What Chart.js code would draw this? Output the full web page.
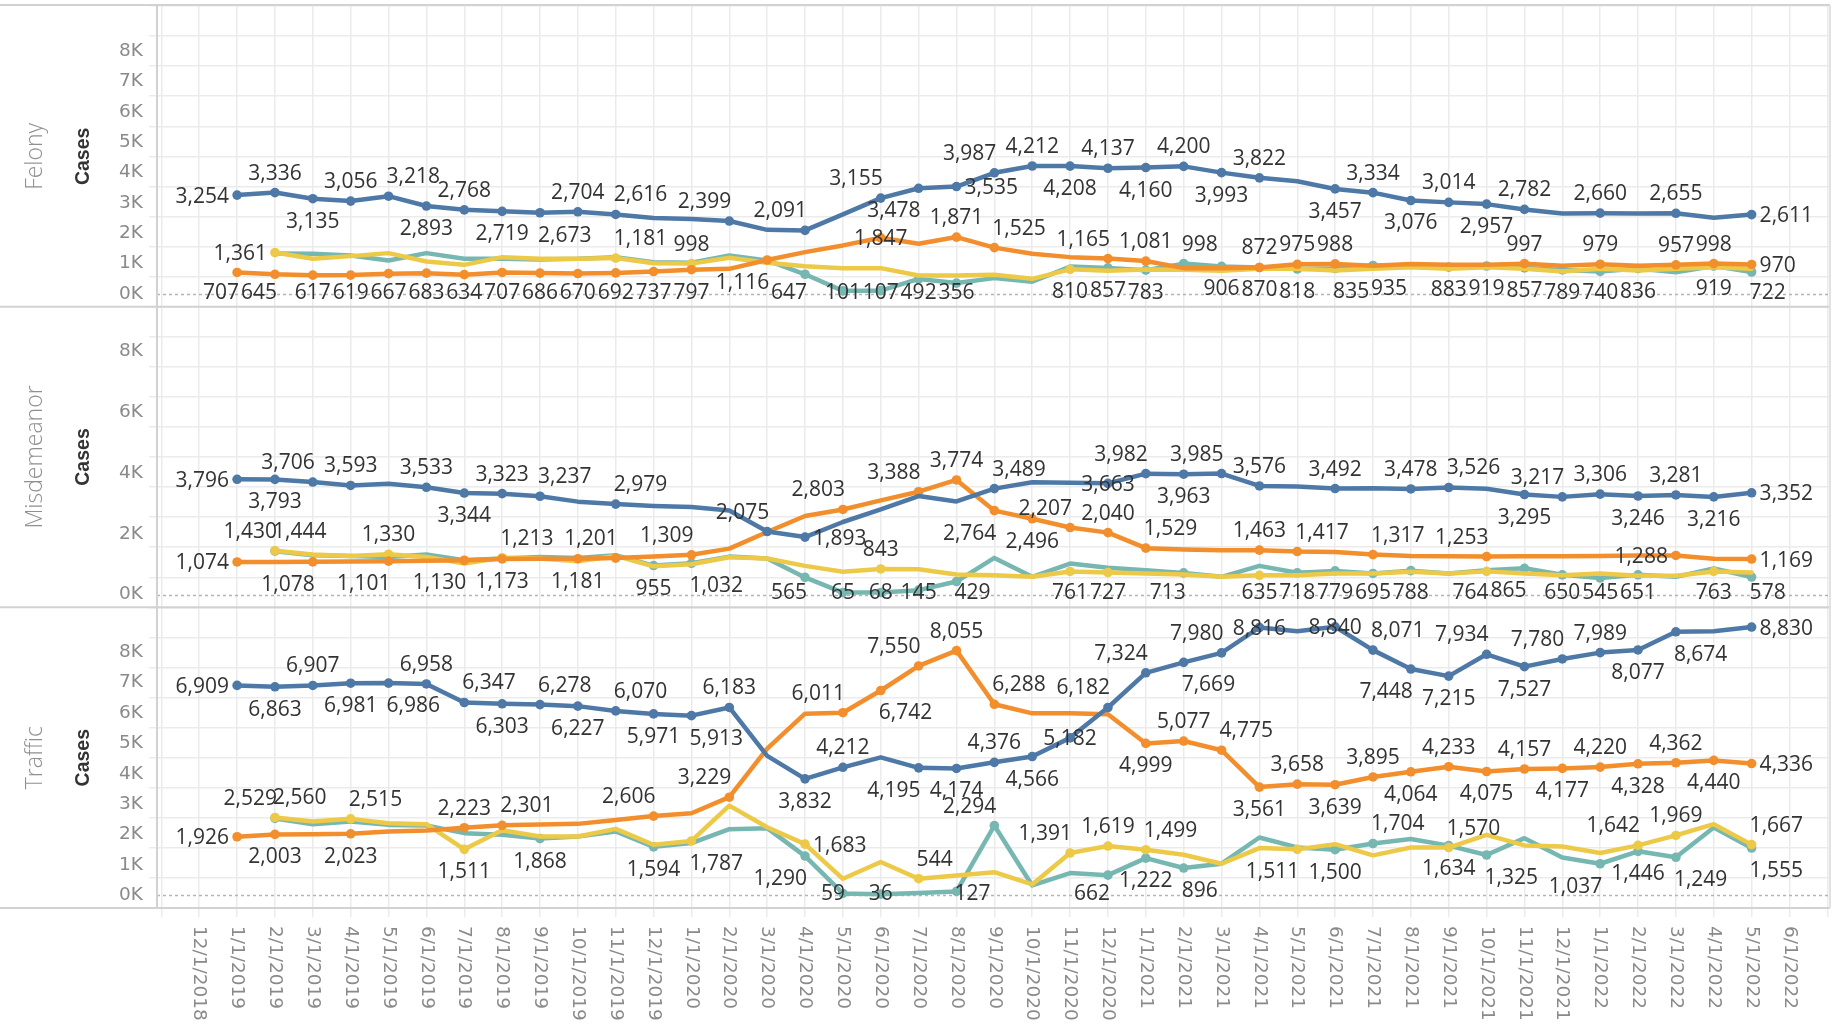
<!DOCTYPE html>
<html>
<head>
<meta charset="utf-8">
<title>Cases by month</title>
<script src="https://cdn.jsdelivr.net/npm/chart.js@4.4.1/dist/chart.umd.min.js"></script>
<style>
  html, body { margin:0; padding:0; background:#ffffff; }
  #wrap { position:relative; width:1837px; height:1024px; }
  canvas { display:block; }
</style>
</head>
<body>
<div id="wrap"><canvas id="chart"></canvas></div>
<script>
// ---------------- data ----------------
const months = ['12/1/2018','1/1/2019','2/1/2019','3/1/2019','4/1/2019','5/1/2019','6/1/2019','7/1/2019','8/1/2019','9/1/2019','10/1/2019','11/1/2019','12/1/2019','1/1/2020','2/1/2020','3/1/2020','4/1/2020','5/1/2020','6/1/2020','7/1/2020','8/1/2020','9/1/2020','10/1/2020','11/1/2020','12/1/2020','1/1/2021','2/1/2021','3/1/2021','4/1/2021','5/1/2021','6/1/2021','7/1/2021','8/1/2021','9/1/2021','10/1/2021','11/1/2021','12/1/2021','1/1/2022','2/1/2022','3/1/2022','4/1/2022','5/1/2022','6/1/2022'];
const firstDataMonth = 1; // series values start at '1/1/2019'

const felonyTicks = [0,1000,2000,3000,4000,5000,6000,7000,8000];
const misdTicks   = [0,2000,4000,6000,8000];
const trafficTicks = [0,1000,2000,3000,4000,5000,6000,7000,8000];

const felonyBlue   = [3254,3336,3135,3056,3218,2893,2768,2719,2673,2704,2616,2500,2470,2399,2110,2091,2620,3155,3478,3535,3987,4212,4208,4137,4160,4200,3993,3822,3710,3457,3334,3076,3014,2957,2782,2645,2660,2650,2655,2510,2611];
const felonyOrange = [707,645,617,619,667,683,634,707,686,670,692,737,797,826,1116,1376,1597,1847,1650,1871,1525,1320,1211,1165,1081,848,848,872,975,988,930,985,957,957,997,930,979,930,957,998,970];
const felonyTeal   = [null,1330,1320,1267,1102,1343,1155,1155,1135,1155,1211,1046,1030,1267,1102,647,101,107,492,356,520,400,900,857,783,998,906,870,818,835,935,915,883,919,857,789,740,836,716,919,722];
const felonyYellow = [null,1361,1155,1244,1343,1069,957,1211,1155,1155,1181,1013,998,1189,1023,911,848,848,606,606,628,496,810,760,800,793,760,830,826,771,826,880,826,881,826,740,826,771,826,881,826];

const misdBlue   = [3796,3793,3706,3593,3650,3533,3344,3323,3237,3060,2979,2920,2880,2770,2075,1893,2390,2806,3243,3068,3489,3700,3680,3663,3982,3963,3985,3576,3560,3492,3505,3478,3526,3484,3295,3217,3306,3246,3281,3216,3352];
const misdOrange = [1074,1076,1078,1090,1101,1115,1130,1173,1178,1181,1201,1250,1309,1514,2061,2586,2803,3100,3388,3774,2764,2496,2207,2040,1529,1481,1459,1463,1417,1400,1317,1270,1262,1253,1260,1262,1270,1285,1288,1180,1169];
const misdTeal   = [null,1430,1295,1273,1241,1317,1131,1186,1241,1208,1295,955,1032,1250,1186,565,65,68,145,429,1208,584,1022,880,804,713,584,946,718,779,695,788,694,804,865,650,545,651,584,858,578];
const misdYellow = [null,1444,1317,1273,1330,1241,1022,1213,1186,1099,1273,930,1000,1230,1186,946,749,843,836,661,639,584,761,727,694,661,584,635,639,694,694,749,694,764,694,639,694,617,617,763,727];

const trafficBlue   = [6909,6863,6907,6981,6986,6958,6347,6303,6278,6227,6070,5971,5913,6183,4590,3832,4212,4540,4195,4174,4376,4566,5182,6182,7324,7669,7980,8816,8690,8840,8071,7448,7215,7934,7527,7780,7989,8077,8674,8690,8830];
const trafficOrange = [1926,2003,2010,2023,2100,2130,2223,2301,2330,2350,2480,2606,2700,3229,4830,5978,6011,6742,7550,8055,6288,5990,5990,5960,4999,5077,4775,3561,3658,3639,3895,4064,4233,4075,4157,4177,4220,4328,4362,4440,4336];
const trafficTeal   = [null,2529,2339,2426,2317,2295,2044,1989,1868,1934,2098,1594,1716,2175,2208,1290,59,36,72,127,2294,322,730,662,1222,896,1038,1902,1574,1500,1704,1850,1634,1325,1880,1245,1037,1446,1249,2230,1555];
const trafficYellow = [null,2560,2426,2515,2372,2340,1511,2142,1934,1934,2186,1661,1787,2950,2240,1683,541,1093,544,650,760,355,1391,1619,1499,1335,1038,1552,1511,1683,1313,1574,1570,1990,1640,1607,1390,1642,1969,2339,1667];

// ------------- label placement (keyed by month index; style only) -------------
const felonyBlueLab = {1:'L',2:'T',3:'B',4:'T',5:'TR',6:'B',7:'T',8:'B',9:'BR',10:'T',11:'TR',14:'TL',16:'TL',18:'TL',19:'BL',20:'R',21:'TL',22:'T',23:'B',24:'T',25:'B',26:'T',27:'B',28:'T',30:'B',31:'T',32:'B',33:'T',34:'B',35:'T',37:'T',39:'T',41:'R'};
const felonyOrangeLab = {1:'BL',2:'BL',3:'B',4:'B',5:'B',6:'B',7:'B',8:'B',9:'B',10:'B',11:'B',12:'B',13:'B',15:'BL',18:'M',20:'T',21:'TR',24:'TL',25:'T',28:'T',29:'T',30:'T',35:'T',37:'T',39:'T',40:'T',41:'R'};
const felonyTealLab = {16:'BL',17:'B',18:'B',19:'B',20:'B',24:'B',25:'B',26:'TR',27:'B',28:'B',29:'B',30:'BR',31:'BR',33:'B',34:'B',35:'B',36:'B',37:'B',38:'B',40:'B',41:'BR'};
const felonyYellowLab = {2:'L',11:'TR',13:'T',23:'B'};

const misdBlueLab = {1:'L',2:'B',3:'TL',4:'T',6:'T',7:'B',8:'T',9:'TR',11:'TR',15:'TL',16:'R',21:'TR',24:'M',25:'TL',26:'B',27:'TL',28:'T',30:'T',32:'T',33:'TR',35:'B',36:'TL',37:'T',38:'B',39:'T',40:'B',41:'R'};
const misdOrangeLab = {1:'L',3:'BL',5:'BL',7:'BL',8:'B',10:'B',11:'TL',13:'TL',17:'TL',19:'TL',20:'T',21:'BL',22:'B',23:'TL',24:'T',25:'TR',28:'T',29:'TR',31:'TR',34:'TL',39:'L',41:'R'};
const misdTealLab = {2:'TL',12:'B',13:'BR',16:'BL',17:'B',18:'B',19:'B',20:'BR',26:'BL',29:'B',30:'B',31:'B',32:'B',35:'BL',36:'B',37:'B',38:'B',41:'BR'};
const misdYellowLab = {2:'TR',5:'T',8:'TR',18:'T',23:'B',24:'B',28:'B',34:'BL',40:'B'};

const trafficBlueLab = {1:'L',2:'B',3:'T',4:'B',5:'BR',6:'T',7:'TR',8:'B',9:'TR',10:'B',11:'TR',12:'B',13:'BR',14:'T',16:'B',17:'T',19:'BL',20:'B',21:'T',22:'B',23:'M',24:'TL',25:'TL',26:'BR',27:'TL',28:'M',30:'M',31:'TR',32:'BL',33:'B',34:'TL',35:'B',36:'TL',37:'T',38:'B',39:'BR',41:'R'};
const trafficOrangeLab = {1:'L',2:'B',4:'B',7:'T',8:'TR',12:'TL',14:'TL',17:'TL',18:'BR',19:'TL',20:'T',21:'TR',25:'B',26:'T',27:'TR',28:'B',29:'T',30:'B',31:'T',32:'B',33:'T',34:'B',35:'T',36:'B',37:'T',38:'B',39:'T',40:'B',41:'R'};
const trafficTealLab = {2:'TL',9:'B',12:'B',16:'BL',17:'BL',18:'B',20:'BR',21:'TL',24:'BL',25:'B',26:'BR',30:'B',31:'TR',33:'B',34:'BR',37:'BL',38:'B',39:'BR',41:'BR'};
const trafficYellowLab = {2:'TR',4:'TR',7:'B',13:'BR',16:'R',19:'TR',23:'TL',24:'T',25:'TR',29:'BL',33:'TR',38:'TL',39:'T',41:'TR'};

// ---------------- styling ----------------
const COLORS = { blue:'#4e79a7', orange:'#f28e2b', teal:'#76b7b2', yellow:'#edc948' };
const ORDER  = { blue:1, orange:2, yellow:3, teal:4 };
const GRID = '#ebebeb';
const AXIS_TEXT = '#8a8a8a';
const LABEL_FONT = '21px "Open Sans", "Noto Sans", sans-serif';
const TICK_FONT = '18.5px "DejaVu Sans", sans-serif';

const panels = [
  { axis:'yF', name:'Felony', ticks:felonyTicks, series:[
      {color:'blue', values:felonyBlue, lab:felonyBlueLab},
      {color:'orange', values:felonyOrange, lab:felonyOrangeLab},
      {color:'teal', values:felonyTeal, lab:felonyTealLab},
      {color:'yellow', values:felonyYellow, lab:felonyYellowLab}]},
  { axis:'yM', name:'Misdemeanor', ticks:misdTicks, series:[
      {color:'blue', values:misdBlue, lab:misdBlueLab},
      {color:'orange', values:misdOrange, lab:misdOrangeLab},
      {color:'teal', values:misdTeal, lab:misdTealLab},
      {color:'yellow', values:misdYellow, lab:misdYellowLab}]},
  { axis:'yT', name:'Traffic', ticks:trafficTicks, series:[
      {color:'blue', values:trafficBlue, lab:trafficBlueLab},
      {color:'orange', values:trafficOrange, lab:trafficOrangeLab},
      {color:'teal', values:trafficTeal, lab:trafficTealLab},
      {color:'yellow', values:trafficYellow, lab:trafficYellowLab}]}
];

const datasets = [];
panels.forEach(p => {
  p.series.forEach(s => {
    const data = s.values.map((v, k) => ({ x: k + firstDataMonth, y: v }));
    datasets.push({
      label: p.name + ' ' + s.color,
      data,
      yAxisID: p.axis,
      borderColor: COLORS[s.color],
      backgroundColor: COLORS[s.color],
      borderWidth: 4.5,
      tension: 0,
      fill: false,
      spanGaps: false,
      borderJoinStyle: 'round',
      borderCapStyle: 'round',
      pointRadius: data.map(d => (d.y != null && s.lab[d.x]) ? 4.8 : 0),
      pointBorderWidth: 0,
      pointHoverRadius: 0,
      order: ORDER[s.color],
      labelPos: s.lab
    });
  });
});

const scales = {
  x: {
    type: 'linear', position: 'bottom', min: -1.115, max: 43.07,
    ticks: { display: false, stepSize: 1, includeBounds: false, autoSkip: false },
    grid: { color: GRID, lineWidth: 1.5, drawTicks: true, tickLength: 9, tickColor: GRID },
    border: { display: false },
    afterFit(s) { s.height = 116; }
  }
};
panels.forEach((p, k) => {
  scales[p.axis] = {
    type: 'linear', position: 'left', stack: 'rows', stackWeight: 1, weight: 3 - k,
    min: -420, max: 9480,
    ticks: { display: false, stepSize: 1000, includeBounds: false, autoSkip: false },
    grid: {
      color: c => (c.tick && c.tick.value === 0) ? 'rgba(0,0,0,0)' : GRID,
      tickColor: c => (c.tick && c.tick.value === 0) ? 'rgba(0,0,0,0)' : GRID,
      lineWidth: 1.5, drawTicks: true, tickLength: 8
    },
    border: { display: false },
    afterFit(s) { s.width = 157; }
  };
});

function fmt(v) { return v.toLocaleString('en-US'); }

const decor = {
  id: 'decor',
  beforeDatasetsDraw(chart) {
    const { ctx, chartArea: ca } = chart;
    ctx.save();
    ctx.setLineDash([3, 3]);
    ctx.strokeStyle = '#b4b4b4';
    ctx.lineWidth = 1.5;
    panels.forEach(p => {
      const s = chart.scales[p.axis];
      const y = Math.round(s.getPixelForValue(0)) + 0.5;
      ctx.beginPath(); ctx.moveTo(ca.left, y); ctx.lineTo(ca.right, y); ctx.stroke();
    });
    ctx.restore();
  },
  afterDatasetsDraw(chart) {
    const ctx = chart.ctx;
    ctx.save();
    ctx.font = LABEL_FONT;
    ctx.fillStyle = '#333333';
    ctx.textAlign = 'left';
    ctx.textBaseline = 'alphabetic';
    const capH = 15, up = 13, down = 14, side = 8;
    chart.data.datasets.forEach((ds, di) => {
      const meta = chart.getDatasetMeta(di);
      const sc = chart.scales[ds.yAxisID];
      ds.data.forEach((pt, j) => {
        const code = ds.labelPos[pt.x];
        if (!code || pt.y == null) return;
        const el = meta.data[j];
        const x = el.x, y = el.y;
        const t = fmt(pt.y);
        const w = ctx.measureText(t).width;
        let tx = x - w / 2, ty = y - up;
        switch (code) {
          case 'T':  tx = x - w / 2; ty = y - up; break;
          case 'B':  tx = x - w / 2; ty = y + down + capH; break;
          case 'L':  tx = x - side - w; ty = y + capH / 2; break;
          case 'R':  tx = x + side; ty = y + capH / 2; break;
          case 'M':  tx = x - w / 2; ty = y + capH / 2; break;
          case 'TL': tx = x - w + 2; ty = y - up; break;
          case 'TR': tx = x - 2; ty = y - up; break;
          case 'BL': tx = x - w + 2; ty = y + down + capH; break;
          case 'BR': tx = x - 2; ty = y + down + capH; break;
        }
        // keep labels inside their pane
        ty = Math.min(ty, sc.bottom - 8);
        ty = Math.max(ty, sc.top + capH + 4);
        ctx.fillText(t, tx, ty);
      });
    });
    ctx.restore();
  },
  afterDraw(chart) {
    const { ctx, chartArea: ca } = chart;
    ctx.save();
    // y tick labels
    ctx.font = TICK_FONT;
    ctx.fillStyle = AXIS_TEXT;
    ctx.textAlign = 'right';
    ctx.textBaseline = 'middle';
    panels.forEach(p => {
      const s = chart.scales[p.axis];
      p.ticks.forEach(v => ctx.fillText((v / 1000) + 'K', ca.left - 14, s.getPixelForValue(v)));
    });
    // month labels, rotated to read top-to-bottom
    const xs = chart.scales.x;
    ctx.textAlign = 'left';
    ctx.textBaseline = 'middle';
    months.forEach((m, i) => {
      const x = xs.getPixelForValue(i);
      ctx.save();
      ctx.translate(x, ca.bottom + 18);
      ctx.rotate(Math.PI / 2);
      ctx.fillText(m, 0, 0);
      ctx.restore();
    });
    // structure lines
    ctx.strokeStyle = '#d2d2d2';
    ctx.lineWidth = 2;
    const ys = [ca.top - 1];
    panels.forEach(p => ys.push(chart.scales[p.axis].bottom));
    ys.forEach(y => { ctx.beginPath(); ctx.moveTo(0, y); ctx.lineTo(ca.right, y); ctx.stroke(); });
    ctx.beginPath(); ctx.moveTo(ca.left, ca.top - 1); ctx.lineTo(ca.left, ca.bottom); ctx.stroke();
    ctx.strokeStyle = '#e2e2e2';
    ctx.beginPath(); ctx.moveTo(ca.right, ca.top - 1); ctx.lineTo(ca.right, ca.bottom); ctx.stroke();
    // row headers and axis titles
    panels.forEach(p => {
      const s = chart.scales[p.axis];
      const cy = (s.top + s.bottom) / 2;
      ctx.save();
      ctx.translate(35, cy); ctx.rotate(-Math.PI / 2);
      ctx.textAlign = 'center'; ctx.textBaseline = 'middle';
      ctx.font = '300 23px "Open Sans", "Lato", sans-serif';
      ctx.fillStyle = '#909090';
      ctx.fillText(p.name, 0, 0);
      ctx.restore();
      ctx.save();
      ctx.translate(84, cy); ctx.rotate(-Math.PI / 2);
      ctx.textAlign = 'center'; ctx.textBaseline = 'middle';
      ctx.font = 'bold 19.5px "Liberation Sans", Arial, sans-serif';
      ctx.fillStyle = '#333333';
      ctx.fillText('Cases', 0, 0);
      ctx.restore();
    });
    ctx.restore();
  }
};

new Chart(document.getElementById('chart'), {
  type: 'line',
  data: { datasets },
  options: {
    responsive: true,
    maintainAspectRatio: false,
    animation: false,
    events: [],
    layout: { padding: { top: 6, right: 7, bottom: 0, left: 0 } },
    plugins: { legend: { display: false }, tooltip: { enabled: false } },
    scales
  },
  plugins: [decor]
});
</script>
</body>
</html>
